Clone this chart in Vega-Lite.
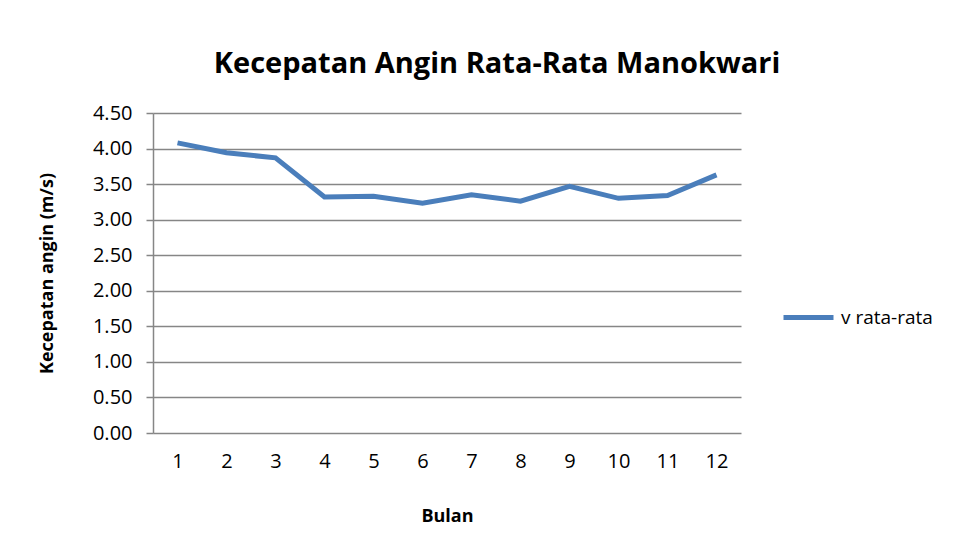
{
  "$schema": "https://vega.github.io/schema/vega-lite/v6.json",
  "width": 588,
  "height": 320,
  "autosize": {"type": "none"},
  "padding": {"left": 153, "top": 113, "right": 229, "bottom": 112},
  "background": "white",
  "config": {
    "font": "Open Sans",
    "view": {"stroke": null}
  },
  "title": {
    "text": "Kecepatan Angin Rata-Rata Manokwari",
    "font": "Open Sans",
    "fontSize": 29,
    "fontWeight": "bold",
    "color": "#000000",
    "anchor": "middle",
    "dx": 50,
    "offset": 24
  },
  "data": {
    "values": [
      {"bulan": 1, "v": 4.08, "series": "v rata-rata"},
      {"bulan": 2, "v": 3.94, "series": "v rata-rata"},
      {"bulan": 3, "v": 3.87, "series": "v rata-rata"},
      {"bulan": 4, "v": 3.32, "series": "v rata-rata"},
      {"bulan": 5, "v": 3.33, "series": "v rata-rata"},
      {"bulan": 6, "v": 3.23, "series": "v rata-rata"},
      {"bulan": 7, "v": 3.35, "series": "v rata-rata"},
      {"bulan": 8, "v": 3.26, "series": "v rata-rata"},
      {"bulan": 9, "v": 3.47, "series": "v rata-rata"},
      {"bulan": 10, "v": 3.30, "series": "v rata-rata"},
      {"bulan": 11, "v": 3.34, "series": "v rata-rata"},
      {"bulan": 12, "v": 3.63, "series": "v rata-rata"}
    ]
  },
  "mark": {"type": "line", "strokeWidth": 5, "strokeCap": "butt", "strokeJoin": "miter"},
  "encoding": {
    "x": {
      "field": "bulan",
      "type": "ordinal",
      "scale": {"type": "point", "padding": 0.5},
      "axis": {
        "title": "Bulan",
        "titleFontSize": 18,
        "titleFontWeight": "bold",
        "titleColor": "#000000",
        "titlePadding": 36,
        "labelAngle": 0,
        "labelFontSize": 20,
        "labelColor": "#000000",
        "labelPadding": 18,
        "ticks": false,
        "domain": false,
        "grid": false
      }
    },
    "y": {
      "field": "v",
      "type": "quantitative",
      "scale": {"domain": [0, 4.5], "nice": false},
      "axis": {
        "title": "Kecepatan angin (m/s)",
        "titleFontSize": 18,
        "titleFontWeight": "bold",
        "titleColor": "#000000",
        "titlePadding": 36,
        "values": [0, 0.5, 1, 1.5, 2, 2.5, 3, 3.5, 4, 4.5],
        "format": ".2f",
        "labelFontSize": 20,
        "labelColor": "#000000",
        "labelPadding": 14,
        "tickSize": 7,
        "tickColor": "#868686",
        "tickWidth": 1.5,
        "domainColor": "#868686",
        "domainWidth": 1.5,
        "grid": true,
        "gridColor": "#868686",
        "gridWidth": 1.5
      }
    },
    "color": {
      "field": "series",
      "type": "nominal",
      "scale": {"range": ["#4a7ebb"]},
      "legend": {
        "title": null,
        "orient": "none",
        "legendX": 628,
        "legendY": 177,
        "symbolType": "stroke",
        "symbolSize": 2500,
        "symbolStrokeWidth": 5,
        "labelFontSize": 19,
        "labelColor": "#000000",
        "labelOffset": 5
      }
    }
  }
}
